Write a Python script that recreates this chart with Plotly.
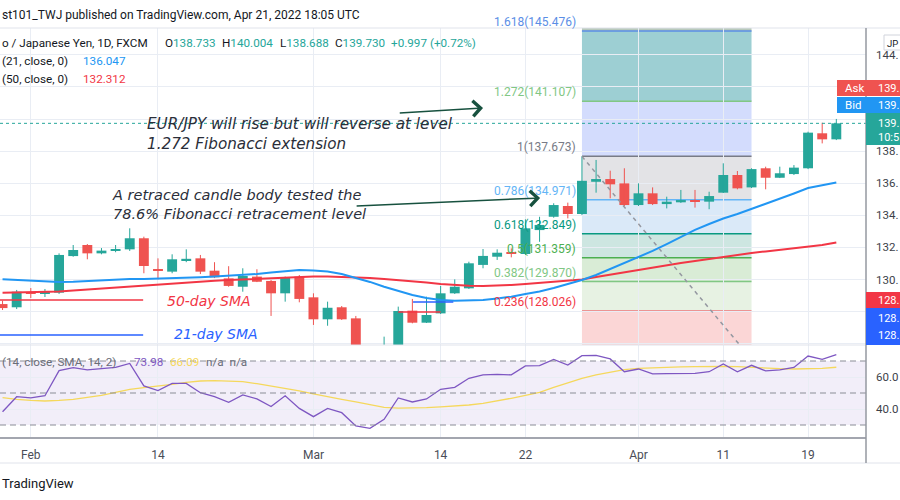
import plotly.graph_objects as go

# ---------------- data ----------------
dates = ["2022-01-28", "2022-01-31", "2022-02-01", "2022-02-02", "2022-02-03", "2022-02-04",
         "2022-02-07", "2022-02-08", "2022-02-09", "2022-02-10", "2022-02-11", "2022-02-14",
         "2022-02-15", "2022-02-16", "2022-02-17", "2022-02-18", "2022-02-21", "2022-02-22",
         "2022-02-23", "2022-02-24", "2022-02-25", "2022-02-28", "2022-03-01", "2022-03-02",
         "2022-03-03", "2022-03-04", "2022-03-07", "2022-03-08", "2022-03-09", "2022-03-10",
         "2022-03-11", "2022-03-14", "2022-03-15", "2022-03-16", "2022-03-17", "2022-03-18",
         "2022-03-21", "2022-03-22", "2022-03-23", "2022-03-24", "2022-03-25", "2022-03-28",
         "2022-03-29", "2022-03-30", "2022-03-31", "2022-04-01", "2022-04-04", "2022-04-05",
         "2022-04-06", "2022-04-07", "2022-04-08", "2022-04-11", "2022-04-12", "2022-04-13",
         "2022-04-14", "2022-04-15", "2022-04-18", "2022-04-19", "2022-04-20", "2022-04-21"]

opens = [128.47, 128.27, 129.22, 129.12, 129.18, 131.46, 132.15, 131.63, 131.81, 131.88,
         132.57, 130.62, 130.49, 131.21, 131.32, 130.55, 130.07, 129.55, 130.18, 129.91,
         129.14, 130.18, 128.89, 127.52, 128.27, 127.58, 125.50, 124.90, 125.80, 128.06,
         127.31, 127.89, 129.14, 129.45, 130.91, 131.42, 131.67, 131.59, 133.08, 133.91,
         134.58, 134.08, 136.09, 136.26, 135.99, 134.64, 135.37, 134.70, 134.81, 134.95,
         134.85, 135.41, 136.51, 135.74, 136.93, 136.34, 136.57, 136.93, 139.11, 138.733]
highs = [128.68, 129.35, 129.47, 129.41, 131.63, 132.15, 132.21, 131.96, 132.15, 133.19,
         132.67, 131.32, 131.57, 131.88, 131.53, 131.08, 130.83, 130.70, 130.64, 129.97,
         130.18, 130.28, 129.14, 128.62, 128.35, 127.73, 125.80, 126.44, 128.31, 128.79,
         128.93, 129.60, 130.01, 131.11, 131.90, 131.88, 131.94, 133.75, 133.91, 134.75,
         134.79, 137.673, 137.45, 136.78, 136.93, 135.99, 135.74, 135.16, 135.58, 135.58,
         135.47, 137.24, 136.76, 136.93, 137.03, 137.03, 137.13, 139.21, 139.77, 140.004]
lows = [128.10, 128.16, 128.85, 128.91, 129.10, 131.42, 131.26, 131.57, 131.70, 131.78,
        130.39, 130.01, 130.39, 131.08, 130.34, 130.09, 129.55, 129.24, 129.84, 127.73,
        128.62, 128.58, 127.17, 127.12, 127.48, 125.30, 124.40, 124.60, 125.70, 127.27,
        127.29, 127.85, 129.10, 129.41, 130.70, 131.22, 131.38, 131.53, 132.35, 133.85,
        133.81, 134.02, 135.41, 135.06, 134.58, 134.58, 134.64, 134.43, 134.77, 134.48,
        134.38, 135.39, 135.62, 135.70, 135.62, 136.32, 136.51, 136.88, 138.48, 138.688]
closes = [128.22, 129.24, 129.12, 129.22, 131.53, 131.84, 131.63, 131.80, 131.90, 132.57,
          130.84, 130.56, 131.26, 131.29, 130.49, 130.14, 129.60, 130.22, 129.86, 129.14,
          130.14, 128.79, 127.52, 128.24, 127.52, 125.60, 124.90, 125.80, 128.04, 127.31,
          127.79, 129.14, 129.55, 131.01, 131.47, 131.67, 131.59, 133.19, 133.40, 134.64,
          134.08, 136.15, 136.26, 135.93, 134.64, 135.37, 134.70, 134.85, 134.95, 134.85,
          135.20, 136.51, 135.68, 136.88, 136.34, 136.62, 136.97, 139.15, 138.733, 139.730]

sma21 = [130.01, 129.97, 129.91, 129.86, 129.85, 129.86, 129.91, 129.97, 130.01, 130.03,
         130.03, 130.05, 130.08, 130.09, 130.14, 130.18, 130.22, 130.28, 130.34, 130.44,
         130.53, 130.59, 130.56, 130.50, 130.34, 130.09, 129.85, 129.55, 129.28, 129.03,
         128.85, 128.72, 128.68, 128.68, 128.72, 128.82, 128.93, 129.10, 129.25, 129.47,
         129.72, 129.97, 130.28, 130.65, 131.00, 131.37, 131.78, 132.21, 132.65, 133.09,
         133.46, 133.80, 134.08, 134.39, 134.71, 135.02, 135.36, 135.70, 135.89, 136.047]
sma50 = [129.18, 129.19, 129.20, 129.22, 129.25, 129.32, 129.38, 129.45, 129.53, 129.60,
         129.66, 129.72, 129.78, 129.83, 129.88, 129.93, 129.97, 130.01, 130.05, 130.08,
         130.09, 130.16, 130.18, 130.18, 130.16, 130.13, 130.09, 130.03, 129.97, 129.91,
         129.81, 129.72, 129.66, 129.61, 129.60, 129.61, 129.66, 129.72, 129.78, 129.85,
         129.93, 130.00, 130.16, 130.31, 130.47, 130.59, 130.75, 130.90, 131.03, 131.15,
         131.28, 131.40, 131.53, 131.65, 131.75, 131.84, 131.93, 132.06, 132.15, 132.312]

rsi = [38.3, 47.7, 46.9, 48.3, 64.0, 65.8, 64.4, 65.0, 66.0, 68.5,
       54.4, 51.5, 56.0, 56.0, 50.2, 47.7, 44.2, 48.8, 46.3, 41.5,
       48.3, 40.4, 35.2, 40.4, 37.7, 29.4, 27.9, 33.5, 46.9, 44.4,
       46.3, 52.3, 53.5, 59.2, 61.3, 61.7, 61.3, 66.9, 67.1, 71.0,
       67.5, 73.3, 73.5, 71.3, 63.3, 65.0, 61.9, 62.1, 62.3, 62.3,
       63.3, 68.1, 63.3, 67.3, 63.8, 64.4, 66.0, 73.1, 71.0, 73.98]
rsi_ma = [47.1, 46.0, 45.4, 45.0, 45.4, 46.0, 47.3, 48.5, 50.4, 52.3,
          53.3, 54.2, 55.4, 56.7, 57.5, 57.7, 57.5, 57.1, 55.8, 54.4,
          53.1, 51.3, 49.4, 47.5, 46.0, 44.4, 42.5, 41.0, 40.6, 40.6,
          40.8, 41.3, 41.7, 42.5, 43.5, 45.0, 46.7, 48.5, 50.4, 53.5,
          56.5, 59.2, 61.3, 63.1, 64.6, 65.4, 65.8, 66.0, 66.3, 66.5,
          66.7, 66.7, 66.5, 66.0, 65.6, 65.2, 65.0, 65.0, 65.4, 66.09]

tick_dates = ["2022-02-01", "2022-02-14", "2022-03-01", "2022-03-14",
              "2022-03-22", "2022-04-01", "2022-04-11", "2022-04-19"]
tick_text = ["Feb", "14", "Mar", "14", "22", "Apr", "11", "19"]

price_ticks = [126, 128, 130, 132, 134, 136, 138, 140, 142, 144, 146]
price_tick_text = ["", "", "130.", "132.", "134.", "136.", "138.", "", "", "144.", ""]
rsi_ticks = [40, 60]
rsi_tick_text = ["40.0", "60.0"]
rsi_levels = [70, 50, 30]

fib_ratios = ["2.618", "1.618", "1.272", "1", "0.786", "0.618", "0.5", "0.382", "0.236", "0"]
fib_prices = [158.100, 145.476, 141.107, 137.673, 134.971, 132.849, 131.359, 129.870, 128.026, 125.047]
fib_start_date = "2022-03-28"
fib_end_date = "2022-04-13"

# user drawings (horizontal lines next to the SMA captions, short rays)
sma50_label_price = 128.72
sma21_label_price = 126.54
ray_red_price = 127.98
ray_blue_price = 128.60

# ---------------- styling ----------------
GREEN = "#26a69a"
RED = "#ef5350"
GRID = "#e9edf4"
TXT = "#131722"
ARROW = "#17513f"
UIFONT = "Roboto"
ANNF = "DejaVu Sans"

fib_line_colors = ["#9598a1", "#5b8ee6", "#81c784", "#787b86", "#64b5f6",
                   "#089981", "#4caf50", "#81c784", "#f23645", "#787b86"]
fib_fill_colors = ["#b8c9bb", "#9dcfd3", "#d3dcfd", "#e3e3e6", "#dae9f8",
                   "#cde6e1", "#d9ecd6", "#e7f2e3", "#fbd6d6"]

W, H = 900, 500
ML, MR, MT, MB = 0, 34, 28, 63
PW, PH = W - ML - MR, H - MT - MB


def px(x):
    return (x - ML) / PW


def py(y):
    return (H - MB - y) / PH


split = py(345)
xidx = list(range(len(dates)))
tick_idx = [dates.index(d) for d in tick_dates]
fib_x0 = dates.index(fib_start_date)
fib_x1 = dates.index(fib_end_date)

fig = go.Figure()

# candles: wicks + bodies
for up, col in [(True, GREEN), (False, RED)]:
    wx, wy = [], []
    bx, bb, bh = [], [], []
    for i in xidx:
        if (closes[i] >= opens[i]) != up:
            continue
        wx += [i, i, None]
        wy += [lows[i], highs[i], None]
        bx.append(i)
        bb.append(min(opens[i], closes[i]))
        bh.append(max(abs(closes[i] - opens[i]), 0.06))
    fig.add_trace(go.Scatter(x=wx, y=wy, mode="lines", xaxis="x2", yaxis="y",
                             line=dict(color=col, width=1), hoverinfo="skip"))
    fig.add_trace(go.Bar(x=bx, y=bh, base=bb, width=0.7, xaxis="x2", yaxis="y",
                         marker=dict(color=col, line=dict(width=0)), hoverinfo="skip"))

# moving averages
fig.add_trace(go.Scatter(x=xidx, y=sma50, mode="lines", xaxis="x2", yaxis="y",
                         line=dict(color="#f23645", width=2), hoverinfo="skip"))
fig.add_trace(go.Scatter(x=xidx, y=sma21, mode="lines", xaxis="x2", yaxis="y",
                         line=dict(color="#2196f3", width=2), hoverinfo="skip"))

# fib trend line (dashed diagonal from level 1 to level 0)
fig.add_trace(go.Scatter(x=[fib_x0, fib_x1], y=[fib_prices[3], fib_prices[-1]], mode="lines",
                         xaxis="x2", yaxis="y",
                         line=dict(color="#9598a1", width=1.5, dash="4px,4px"), hoverinfo="skip"))

# RSI
fig.add_trace(go.Scatter(x=xidx, y=rsi_ma, mode="lines", xaxis="x", yaxis="y2",
                         line=dict(color="#f5d85c", width=1.3), hoverinfo="skip"))
fig.add_trace(go.Scatter(x=xidx, y=rsi, mode="lines", xaxis="x", yaxis="y2",
                         line=dict(color="#7e57c2", width=1.3), hoverinfo="skip"))

shapes = []
for i in range(len(fib_prices) - 1):
    shapes.append(dict(type="rect", xref="x2", yref="y", x0=fib_x0, x1=fib_x1,
                       y0=fib_prices[i + 1], y1=fib_prices[i], fillcolor=fib_fill_colors[i],
                       line=dict(width=0), layer="below"))
for i in range(1, len(fib_prices) - 1):
    shapes.append(dict(type="line", xref="x2", yref="y", x0=fib_x0, x1=fib_x1,
                       y0=fib_prices[i], y1=fib_prices[i],
                       line=dict(color=fib_line_colors[i], width=1.5), layer="below"))

shapes.append(dict(type="line", xref="paper", yref="y", x0=0, x1=1, y0=closes[-1], y1=closes[-1],
                   line=dict(color=GREEN, width=1, dash="dot")))

shapes.append(dict(type="line", xref="x2", yref="y", x0=-0.3, x1=9.95,
                   y0=sma50_label_price, y1=sma50_label_price, line=dict(color="#f23645", width=1.5)))
shapes.append(dict(type="line", xref="x2", yref="y", x0=-0.3, x1=9.95,
                   y0=sma21_label_price, y1=sma21_label_price, line=dict(color="#2962ff", width=1.5)))
shapes.append(dict(type="line", xref="x2", yref="y", x0=28, x1=31,
                   y0=ray_red_price, y1=ray_red_price, line=dict(color="#f23645", width=1.5)))
shapes.append(dict(type="line", xref="x2", yref="y", x0=29.05, x1=31.9,
                   y0=ray_blue_price, y1=ray_blue_price, line=dict(color="#2962ff", width=1.5)))

shapes.append(dict(type="rect", xref="paper", yref="y2", x0=0, x1=1, y0=30, y1=70,
                   fillcolor="#f2eef9", line=dict(width=0), layer="below"))
for lv in rsi_levels:
    shapes.append(dict(type="line", xref="paper", yref="y2", x0=0, x1=1, y0=lv, y1=lv,
                       line=dict(color="#8a8d96", width=1, dash="6px,4px")))

shapes.append(dict(type="line", xref="paper", yref="paper", x0=px(0), x1=px(900), y0=py(28), y1=py(28),
                   line=dict(color="#e0e3eb", width=1)))
shapes.append(dict(type="line", xref="paper", yref="paper", x0=px(0), x1=px(866), y0=py(345), y1=py(345),
                   line=dict(color="#e0e3eb", width=1)))
shapes.append(dict(type="line", xref="paper", yref="paper", x0=px(0), x1=px(900), y0=py(463), y1=py(463),
                   line=dict(color="#e0e3eb", width=1)))
shapes.append(dict(type="line", xref="paper", yref="paper", x0=px(866), x1=px(866), y0=py(28), y1=py(463),
                   line=dict(color="#9598a1", width=1.5)))

boxes = [
    (837, 900, 80, 96, "#ef5350"),
    (837, 900, 97, 113, "#2196f3"),
    (866, 900, 113, 145, GREEN),
    (866, 900, 292, 308, "#f23645"),
    (866, 900, 308, 345, "#2962ff"),
]
for x0, x1, y0, y1, c in boxes:
    shapes.append(dict(type="rect", xref="paper", yref="paper", x0=px(x0), x1=px(x1),
                       y0=py(y1), y1=py(y0), fillcolor=c, line=dict(width=0)))
shapes.append(dict(type="rect", xref="paper", yref="paper", x0=px(884), x1=px(906),
                   y0=py(50), y1=py(35), fillcolor="white", line=dict(color="#d1d4dc", width=1)))

annotations = []


def txt(x, y, text, color=TXT, size=12, anchor="left", family=UIFONT):
    annotations.append(dict(xref="paper", yref="paper", x=px(x), y=py(y), text=text,
                            showarrow=False, xanchor=anchor, yanchor="middle",
                            font=dict(family=family, size=size, color=color)))


txt(0, 15, "st101_TWJ published on TradingView.com, Apr 21, 2022 18:05 UTC", size=12)
txt(0, 43, "o / Japanese Yen, 1D, FXCM", size=11.7)
txt(163, 43, "O<span style='color:%s'>%.3f</span>" % (GREEN, opens[-1]), size=11.7)
txt(220, 43, "H<span style='color:%s'>%.3f</span>" % (GREEN, highs[-1]), size=11.7)
txt(278, 43, "L<span style='color:%s'>%.3f</span>" % (GREEN, lows[-1]), size=11.7)
txt(333, 43, "C<span style='color:%s'>%.3f</span>" % (GREEN, closes[-1]), size=11.7)
txt(389, 43, "+0.997 (+0.72%)", color=GREEN, size=11.7)
txt(0, 61, "(21, close, 0)", size=11.7)
txt(81, 61, "%.3f" % sma21[-1], color="#2196f3", size=11.7)
txt(0, 79, "(50, close, 0)", size=11.7)
txt(81, 79, "%.3f" % sma50[-1], color="#f23645", size=11.7)
txt(0, 362, "(14, close, SMA, 14, 2)", color="#6a6d78", size=11.7)
txt(132, 362, "%.2f" % rsi[-1], color="#7e57c2", size=11.7)
txt(168, 362, "%.2f" % rsi_ma[-1], color="#f5d85c", size=11.7)
txt(204, 362, "n/a  n/a", color="#6a6d78", size=11.7)
txt(0, 483, "TradingView", size=13)

txt(843, 88, "Ask", color="white", size=11.5)
txt(876, 88, "139.", color="white", size=11)
txt(843, 105, "Bid", color="white", size=11.5)
txt(876, 105, "139.", color="white", size=11)
txt(876, 123, "139.", color="white", size=11)
txt(876, 137, "10:5", color="white", size=11)
txt(876, 300, "128.", color="white", size=11)
txt(876, 318, "128.", color="white", size=11)
txt(876, 335, "128.", color="white", size=11)
txt(885, 43, "JP", color="#131722", size=9.5)

for i in range(1, len(fib_prices) - 1):
    annotations.append(dict(xref="x2", yref="y", x=fib_x0 - 0.3, y=fib_prices[i],
                            text="%s(%.3f)" % (fib_ratios[i], fib_prices[i]), showarrow=False,
                            xanchor="right", yanchor="bottom",
                            font=dict(family=UIFONT, size=12, color=fib_line_colors[i])))

annotations.append(dict(xref="x2", yref="y", x=10.1, y=139.05, xanchor="left", yanchor="middle",
                        align="left", showarrow=False,
                        text="<i>EUR/JPY will rise but will reverse at level<br>1.272 Fibonacci extension</i>",
                        font=dict(family=ANNF, size=15.2, color="#2a2e39")))
annotations.append(dict(xref="x2", yref="y", x=7.6, y=134.67, xanchor="left", yanchor="middle",
                        align="left", showarrow=False,
                        text="<i>A retraced candle body tested the<br>78.6% Fibonacci retracement level</i>",
                        font=dict(family=ANNF, size=14.5, color="#2a2e39")))
annotations.append(dict(xref="x2", yref="y", x=11.5, y=128.66, xanchor="left", yanchor="middle",
                        showarrow=False, text="<i>50-day SMA</i>",
                        font=dict(family=ANNF, size=14, color="#f23645")))
annotations.append(dict(xref="x2", yref="y", x=12.0, y=126.6, xanchor="left", yanchor="middle",
                        showarrow=False, text="<i>21-day SMA</i>",
                        font=dict(family=ANNF, size=14, color="#2962ff")))

for (tx, ty, hx, hy) in [(28.0, 140.37, 34.0, 140.69), (24.95, 134.58, 38.04, 135.08)]:
    annotations.append(dict(xref="x2", yref="y", axref="x2", ayref="y", x=hx, y=hy, ax=tx, ay=ty,
                            text="", showarrow=True, arrowhead=4, arrowsize=2, arrowwidth=1.5,
                            arrowcolor=ARROW, standoff=0))

fig.update_layout(
    width=W, height=H, margin=dict(l=ML, r=MR, t=MT, b=MB, pad=0),
    paper_bgcolor="white", plot_bgcolor="white", showlegend=False, barmode="overlay",
    shapes=shapes, annotations=annotations,
    xaxis=dict(domain=[0, 1], anchor="y2", range=[-0.18, 61.1], tickvals=tick_idx, ticktext=tick_text,
               showgrid=True, gridcolor=GRID, zeroline=False, showline=True, linecolor="#a3a6af",
               linewidth=2, ticks="", ticklabelstandoff=6,
               tickfont=dict(family=UIFONT, size=12, color="#4a4d57"), fixedrange=True),
    xaxis2=dict(domain=[0, 1], anchor="y", matches="x", tickvals=tick_idx, showticklabels=False,
                showgrid=True, gridcolor=GRID, zeroline=False, ticks=""),
    yaxis=dict(domain=[split, 1], range=[125.92, 145.67], side="right", anchor="x2",
               tickvals=price_ticks, ticktext=price_tick_text, showgrid=True, gridcolor=GRID,
               zeroline=False, ticks="", ticklabelstandoff=9,
               tickfont=dict(family=UIFONT, size=11.5, color="#3c3f4a")),
    yaxis2=dict(domain=[0, split], range=[22.5, 80], side="right", anchor="x",
                tickvals=rsi_ticks, ticktext=rsi_tick_text, showgrid=True, gridcolor=GRID,
                zeroline=False, ticks="", ticklabelstandoff=9,
                tickfont=dict(family=UIFONT, size=11.5, color="#3c3f4a")),
)

fig.write_html("out.html", config={"displayModeBar": False},
               post_script="document.body.style.margin='0px';document.body.style.overflow='hidden';")
